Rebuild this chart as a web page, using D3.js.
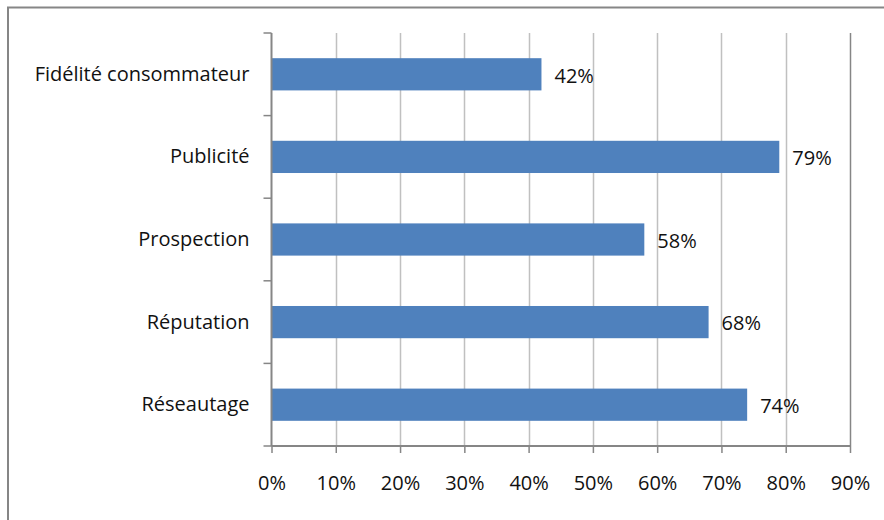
<!DOCTYPE html>
<html><head><meta charset="utf-8">
<script src="https://cdn.jsdelivr.net/npm/d3@7"></script>
<style>body{margin:0;background:#fff;} svg{display:block;}</style>
</head><body>
<svg id="c" width="884" height="520"></svg>
<script>
const categories = ["Fidélité consommateur", "Publicité", "Prospection", "Réputation", "Réseautage"];
const values = [42, 79, 58, 68, 74];
const xTicks = [0, 10, 20, 30, 40, 50, 60, 70, 80, 90];

const svg = d3.select("#c");
const font = "'Open Sans', sans-serif";
const fs = 20;
const m = {left: 271.5, right: 850, top: 33, bottom: 446};

// outer border
svg.append("path").attr("d", "M8,520 V7.5 H884").attr("fill","none").attr("stroke","#868686").attr("stroke-width",2);

const x = d3.scaleLinear().domain([0, 90]).range([m.left, m.right]);
const y = d3.scaleBand().domain(categories).range([m.top, m.bottom]).paddingInner(0.61).paddingOuter(0.305);

// gridlines
svg.append("g").selectAll("line").data(xTicks.filter(d => d > 0)).join("line")
  .attr("x1", d => Math.round(x(d)) + 0.5).attr("x2", d => Math.round(x(d)) + 0.5)
  .attr("y1", m.top).attr("y2", m.bottom)
  .attr("stroke", d => d === 90 ? "#868686" : "#c0c0c0").attr("stroke-width", 1.5);

// bars
svg.append("g").selectAll("rect").data(values).join("rect")
  .attr("x", x(0)).attr("y", (d, i) => y(categories[i]))
  .attr("width", d => x(d) - x(0)).attr("height", y.bandwidth())
  .attr("fill", "#4f81bd");

// value labels
svg.append("g").selectAll("text").data(values).join("text")
  .attr("x", d => x(d) + 13).attr("y", (d, i) => y(categories[i]) + y.bandwidth() / 2 + 3)
  .attr("dominant-baseline", "middle")
  .attr("font-family", font).attr("font-size", fs).attr("fill", "#111")
  .text(d => d + "%");

// x axis
const xAxis = d3.axisBottom(x).tickValues(xTicks).tickSize(7).tickPadding(23).tickFormat(d => d + "%");
const gx = svg.append("g").attr("transform", `translate(0,${m.bottom})`).call(xAxis);
gx.select(".domain").attr("stroke", "#868686").attr("stroke-width", 2).attr("d", `M${m.left},0H${m.right}`);
gx.selectAll(".tick line").attr("stroke", "#868686").attr("stroke-width", 1.5);
gx.selectAll("text").attr("font-family", font).attr("font-size", fs).attr("fill", "#111");

// y axis
const yAxis = d3.axisLeft(y).tickSize(0).tickPadding(22);
const gy = svg.append("g").attr("transform", `translate(${m.left},0)`).call(yAxis);
gy.select(".domain").attr("stroke", "#868686").attr("stroke-width", 2).attr("d", `M0,${m.top}V${m.bottom}`);
gy.selectAll("text").attr("font-family", font).attr("font-size", fs).attr("fill", "#111");
// category boundary ticks
const bounds = d3.range(categories.length + 1).map(i => m.top + i * (m.bottom - m.top) / categories.length);
svg.append("g").selectAll("line").data(bounds).join("line")
  .attr("x1", m.left - 8).attr("x2", m.left).attr("y1", d => d).attr("y2", d => d)
  .attr("stroke", "#868686").attr("stroke-width", 1.5);
</script>
</body></html>
